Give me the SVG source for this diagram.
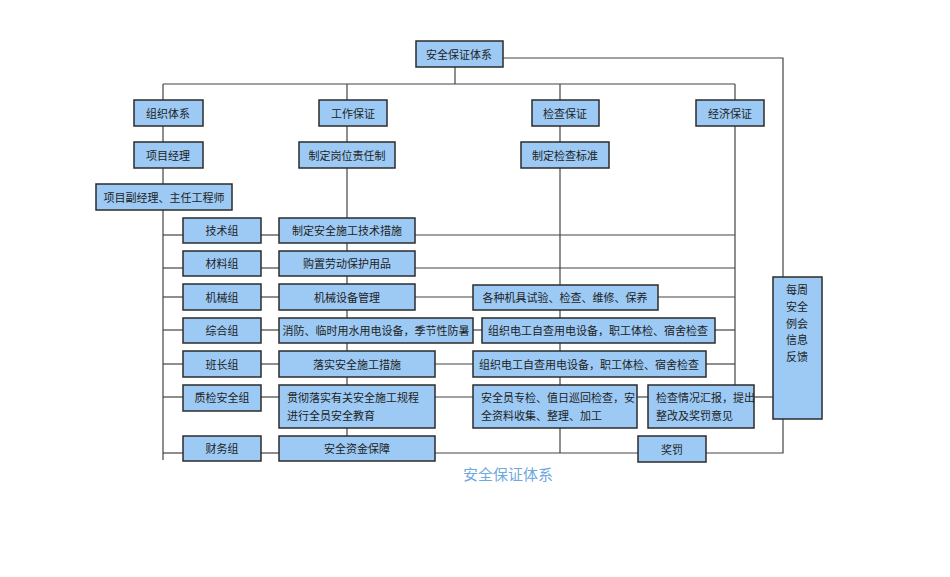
<svg xmlns="http://www.w3.org/2000/svg" width="950" height="577" viewBox="0 0 950 577">
<style>
rect{fill:#9ccaf5;stroke:#2b2b2b;stroke-width:1.5}
text{font-family:"Noto Sans CJK SC","Liberation Serif",serif;font-size:11px;fill:#222;text-anchor:middle;dominant-baseline:central}
.l{text-anchor:start}
#conn line,#conn polyline{stroke:#444;stroke-width:1.2;fill:none}
</style>
<rect x="0" y="0" width="950" height="577" style="fill:#fff;stroke:none"/>
<g id="conn">
<line x1="455" y1="67" x2="455" y2="84"/>
<line x1="163" y1="84" x2="735" y2="84"/>
<polyline points="503,58 783,58 783,277"/>
<polyline points="783,419 783,453 706,453"/>
<line x1="163" y1="84" x2="163" y2="460"/>
<line x1="347" y1="84" x2="347" y2="436"/>
<line x1="560" y1="84" x2="560" y2="453"/>
<line x1="735" y1="84" x2="735" y2="385"/>
<line x1="163" y1="235" x2="183" y2="235"/><line x1="261" y1="235" x2="279" y2="235"/><line x1="415" y1="235" x2="735" y2="235"/>
<line x1="163" y1="268" x2="183" y2="268"/><line x1="261" y1="268" x2="279" y2="268"/><line x1="415" y1="268" x2="735" y2="268"/>
<line x1="163" y1="297" x2="183" y2="297"/><line x1="261" y1="297" x2="279" y2="297"/><line x1="415" y1="297" x2="473" y2="297"/><line x1="658" y1="297" x2="735" y2="297"/>
<line x1="163" y1="330" x2="183" y2="330"/><line x1="261" y1="330" x2="279" y2="330"/><line x1="473" y1="330" x2="482" y2="330"/><line x1="715" y1="330" x2="735" y2="330"/>
<line x1="163" y1="364" x2="183" y2="364"/><line x1="261" y1="364" x2="279" y2="364"/><line x1="435" y1="364" x2="473" y2="364"/><line x1="706" y1="364" x2="735" y2="364"/>
<line x1="163" y1="397" x2="183" y2="397"/><line x1="261" y1="397" x2="279" y2="397"/><line x1="435" y1="397" x2="473" y2="397"/><line x1="637" y1="397" x2="648" y2="397"/><line x1="754" y1="397" x2="773" y2="397"/>
<line x1="163" y1="453" x2="183" y2="453"/><line x1="261" y1="453" x2="279" y2="453"/><line x1="435" y1="453" x2="638" y2="453"/>
</g>
<g id="n0"><rect x="416" y="41" width="87" height="26"/><text x="459" y="54">安全保证体系</text></g>
<g id="n1"><rect x="134" y="100" width="69" height="26"/><text x="168" y="113">组织体系</text></g>
<g id="n2"><rect x="319" y="100" width="68" height="26"/><text x="353" y="113">工作保证</text></g>
<g id="n3"><rect x="532" y="100" width="67" height="26"/><text x="565" y="113">检查保证</text></g>
<g id="n4"><rect x="696" y="100" width="68" height="26"/><text x="730" y="113">经济保证</text></g>
<g id="n5"><rect x="134" y="142" width="69" height="26"/><text x="168" y="155">项目经理</text></g>
<g id="n6"><rect x="299" y="142" width="96" height="26"/><text x="347" y="155">制定岗位责任制</text></g>
<g id="n7"><rect x="521" y="142" width="88" height="26"/><text x="565" y="155">制定检查标准</text></g>
<g id="n8"><rect x="96" y="184" width="136" height="26"/><text x="164" y="197">项目副经理、主任工程师</text></g>
<g id="n9"><rect x="183" y="218" width="78" height="25"/><text x="222" y="230">技术组</text></g>
<g id="n10"><rect x="279" y="218" width="136" height="25"/><text x="347" y="230">制定安全施工技术措施</text></g>
<g id="n11"><rect x="183" y="251" width="78" height="25"/><text x="222" y="263">材料组</text></g>
<g id="n12"><rect x="279" y="251" width="136" height="25"/><text x="347" y="263">购置劳动保护用品</text></g>
<g id="n13"><rect x="183" y="284" width="78" height="26"/><text x="222" y="297">机械组</text></g>
<g id="n14"><rect x="279" y="284" width="136" height="26"/><text x="347" y="297">机械设备管理</text></g>
<g id="n15"><rect x="473" y="285" width="185" height="25"/><text x="565" y="297">各种机具试验、检查、维修、保养</text></g>
<g id="n16"><rect x="183" y="318" width="78" height="25"/><text x="222" y="330">综合组</text></g>
<g id="n17"><rect x="279" y="318" width="194" height="25"/><text x="376" y="330">消防、临时用水用电设备，季节性防暑</text></g>
<g id="n18"><rect x="482" y="318" width="233" height="25"/><text x="598" y="330">组织电工自查用电设备，职工体检、宿舍检查</text></g>
<g id="n19"><rect x="183" y="351" width="78" height="26"/><text x="222" y="364">班长组</text></g>
<g id="n20"><rect x="279" y="351" width="156" height="26"/><text x="357" y="364">落实安全施工措施</text></g>
<g id="n21"><rect x="473" y="351" width="233" height="26"/><text x="589" y="364">组织电工自查用电设备，职工体检、宿舍检查</text></g>
<g id="n22"><rect x="183" y="385" width="78" height="26"/><text x="222" y="397">质检安全组</text></g>
<g id="n23"><rect x="279" y="385" width="156" height="43"/><text class="l" x="287" y="397">贯彻落实有关安全施工规程</text><text class="l" x="287" y="415">进行全员安全教育</text></g>
<g id="n24"><rect x="473" y="385" width="164" height="43"/><text class="l" x="481" y="397">安全员专检、值日巡回检查，安</text><text class="l" x="481" y="415">全资料收集、整理、加工</text></g>
<g id="n25"><rect x="648" y="385" width="106" height="43"/><text class="l" x="656" y="397">检查情况汇报，提出</text><text class="l" x="656" y="415">整改及奖罚意见</text></g>
<g id="n26"><rect x="773" y="277" width="49" height="142"/><text x="797" y="289">每周</text><text x="797" y="306">安全</text><text x="797" y="323">例会</text><text x="797" y="339">信息</text><text x="797" y="356">反馈</text></g>
<g id="n27"><rect x="183" y="436" width="78" height="25"/><text x="222" y="448">财务组</text></g>
<g id="n28"><rect x="279" y="436" width="156" height="25"/><text x="357" y="448">安全资金保障</text></g>
<g id="n29"><rect x="638" y="436" width="68" height="26"/><text x="672" y="449">奖罚</text></g>
<text x="508" y="473" style="font-size:15px;fill:#6fa8dc">安全保证体系</text>
</svg>
